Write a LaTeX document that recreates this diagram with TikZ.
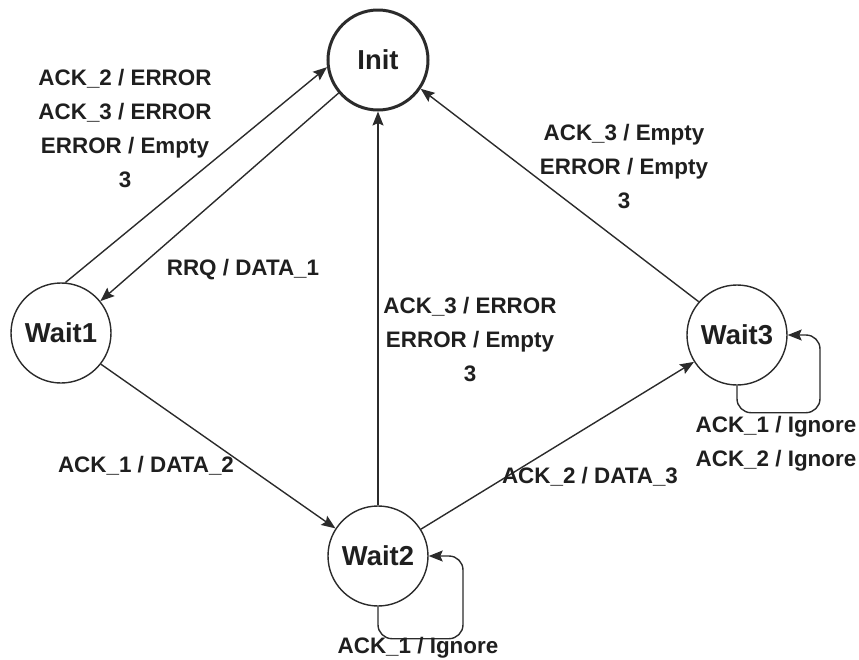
\documentclass[tikz,border=0pt]{standalone}
\usepackage{fontspec}
\setmainfont{Liberation Sans}
\usepackage{tikz}
\usetikzlibrary{arrows.meta, positioning}
\definecolor{fsmInk}{HTML}{1F1F1F}
\definecolor{fsmLine}{HTML}{2B2B2B}
\tikzset{
  arrowS/.style={-{Stealth[length=7pt, width=5.5pt, inset=1.2pt]}, fsmLine, line width=0.7pt},
  stateA/.style={circle, draw=fsmLine, line width=0.7pt, fill=white, minimum size=50pt,
                 inner sep=0pt, text=fsmInk, font=\bfseries\fontsize{13.7}{16}\selectfont},
  stateInit/.style={stateA, line width=1.5pt},
  lbl/.style={text=fsmInk, align=center, font=\bfseries\fontsize{11.2}{17}\selectfont, inner sep=0pt},
}
\begin{document}
\begin{tikzpicture}[x=0.5pt, y=-0.5pt]
    \useasboundingbox (0,0) rectangle (859,660);

    % states
    \node[stateInit] (init)  at (378, 60)  {Init};
    \node[stateA]    (wait1) at (61, 333)  {Wait1};
    \node[stateA]    (wait2) at (378, 556) {Wait2};
    \node[stateA]    (wait3) at (737, 335) {Wait3};

    % transitions
    \draw[arrowS] (wait1.85)  -- (init.188);
    \draw[arrowS] (init.220)  -- (wait1.39);
    \draw[arrowS] (wait2.north) -- (init.south);
    \draw[arrowS] (wait3.139) -- (init.-34);
    \draw[arrowS] (wait1.-38) -- (wait2.147);
    \draw[arrowS] (wait2.32)  -- (wait3.212);

    % self loops
    \draw[arrowS, rounded corners=7pt] (wait2.south) -- ++(0,32) -- ++(85,0) |- (wait2.east);
    \draw[arrowS, rounded corners=7pt] (wait3.south) -- ++(0,27) -- ++(83,0) |- (wait3.east);

    % labels
    \node[lbl] (lErr1)  at (125, 129) {ACK\_2 / ERROR\\ACK\_3 / ERROR\\ERROR / Empty\\3};
    \node[lbl] (lRrq)   at (243, 270) {RRQ / DATA\_1};
    \node[lbl] (lErr2)  at (470, 340) {ACK\_3 / ERROR\\ERROR / Empty\\3};
    \node[lbl] (lErr3)  at (624, 167) {ACK\_3 / Empty\\ERROR / Empty\\3};
    \node[lbl] (lData2) at (146, 466) {ACK\_1 / DATA\_2};
    \node[lbl] (lData3) at (590, 477) {ACK\_2 / DATA\_3};
    \node[lbl] (lIgn2)  at (418, 648) {ACK\_1 / Ignore};
    \node[lbl] (lIgn3)  at (776, 444) {ACK\_1 / Ignore\\ACK\_2 / Ignore};
\end{tikzpicture}
\end{document}
